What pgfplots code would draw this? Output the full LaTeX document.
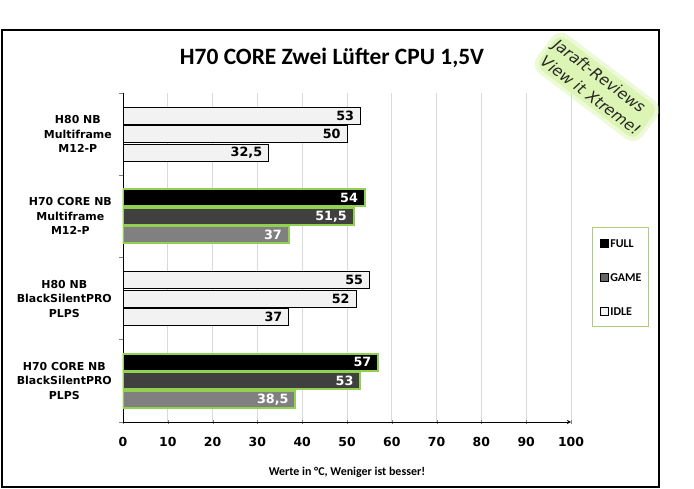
\documentclass[border=0pt]{standalone}
\usepackage{fontspec}
\setmainfont{DejaVu Sans}
\newfontfamily\calibri{Carlito}
\usepackage{pgfplots}
\pgfplotsset{compat=1.18}
\definecolor{barGreen}{RGB}{146,208,80}
\definecolor{legGreen}{RGB}{175,205,120}
\definecolor{glowGreen}{RGB}{200,240,140}
\definecolor{gridGray}{RGB}{217,217,217}
\definecolor{lightFill}{RGB}{242,242,242}
\definecolor{gameGray}{RGB}{64,64,64}
\definecolor{idleGray}{RGB}{128,128,128}
\begin{document}
\begin{tikzpicture}
\useasboundingbox (-123bp,-67bp) rectangle (571bp,422bp);
\draw[line width=1.3bp] (-121bp,-65bp) rectangle (536bp,392bp);
% watermark
\begin{scope}[shift={(474bp,335bp)}, rotate=-37, transform shape]
\fill[glowGreen, opacity=0.35, rounded corners=12bp] (-66bp,-24bp) rectangle (66bp,24bp);
\fill[glowGreen, opacity=0.45, rounded corners=9bp] (-62bp,-20bp) rectangle (62bp,20bp);
\node[text=black!85, align=left, inner sep=0pt, font=\itshape\fontsize{15.5}{21}\selectfont] at (0,0) {Jaraft-Reviews\\View it Xtreme!};
\end{scope}
\begin{axis}[
  at={(0,0)}, anchor=south west,
  scale only axis, width=448bp, height=329bp,
  xmin=0, xmax=100, ymin=-0.5, ymax=3.5,
  xbar, bar width=17bp,
  axis x line=bottom, axis y line=left,
  y axis line style={-},
  axis line style={line width=0.9bp},
  xtick={0,10,...,100},
  xtick align=center,
  major tick length=5bp,
  xmajorgrids, major grid style={draw=gridGray, line width=0.8bp},
  ytick={0,1,2,3},
  yticklabels={{H70 CORE NB\\BlackSilentPRO\\PLPS},{H80 NB\\BlackSilentPRO\\PLPS},{H70 CORE NB\\Multiframe\\M12-P},{H80 NB\\Multiframe\\M12-P}},
  major y tick style={draw=none},
  minor ytick={-0.5,0.5,1.5,2.5,3.5},
  minor tick length=4bp,
  minor y tick style={line width=0.9bp},
  ytick align=outside,
  yticklabel style={align=center, font=\bfseries\fontsize{11}{14.5}\selectfont, inner sep=0pt, xshift=-6bp},
  xticklabel style={font=\bfseries\fontsize{12.5}{14}\selectfont, yshift=-9bp},
  /pgf/number format/assume math mode=true,
  /pgf/number format/use comma,
  xlabel={Werte in °C, Weniger ist besser!},
  xlabel style={font=\calibri\bfseries\fontsize{12}{14}\selectfont, at={(axis description cs:0.5,0)}, anchor=center, yshift=-50bp},
  title={H70 CORE Zwei Lüfter CPU 1,5V},
  title style={font=\calibri\bfseries\fontsize{23.5}{26}\selectfont, at={(axis description cs:0.4665,1.09)}, anchor=center},
  nodes near coords,
  every node near coord/.append style={anchor=east, inner sep=0pt, xshift=-6bp, font=\bfseries\fontsize{12.8}{14}\selectfont},
  legend style={at={(axis description cs:1.0469,0.5927)}, anchor=north west, draw=legGreen, line width=1bp,
    font=\calibri\bfseries\fontsize{12}{12}\selectfont, inner xsep=7bp, inner ysep=11bp, row sep=25bp,
    nodes={inner sep=0.5bp, text height=8bp, text depth=0bp}},
  legend cell align=left,
]
% H70 rows (0 and 2)
\addplot[forget plot, bar shift=18.5bp, fill=black, draw=barGreen, line width=2bp, every node near coord/.append style={text=white}] coordinates {(57,0) (54,2)};
\addplot[forget plot, bar shift=0bp, fill=gameGray, draw=barGreen, line width=2bp, every node near coord/.append style={text=white}] coordinates {(53,0) (51.5,2)};
\addplot[forget plot, bar shift=-18.5bp, fill=idleGray, draw=barGreen, line width=2bp, every node near coord/.append style={text=white}] coordinates {(38.5,0) (37,2)};
% H80 rows (1 and 3)
\addplot[forget plot, bar shift=18.5bp, fill=lightFill, draw=black, line width=0.8bp, every node near coord/.append style={text=black}] coordinates {(55,1) (53,3)};
\addplot[forget plot, bar shift=0bp, fill=lightFill, draw=black, line width=0.8bp, every node near coord/.append style={text=black}] coordinates {(52,1) (50,3)};
\addplot[forget plot, bar shift=-18.5bp, fill=lightFill, draw=black, line width=0.8bp, every node near coord/.append style={text=black}] coordinates {(37,1) (32.5,3)};
\addlegendimage{legend image code/.code={\draw[fill=black,draw=black,line width=0.6bp] (0bp,-4bp) rectangle (8bp,4bp); \path (9.5bp,0bp);}}
\addlegendentry{FULL}
\addlegendimage{legend image code/.code={\draw[fill=gameGray!80,draw=black,line width=0.6bp] (0bp,-4bp) rectangle (8bp,4bp); \path (9.5bp,0bp);}}
\addlegendentry{GAME}
\addlegendimage{legend image code/.code={\draw[fill=lightFill,draw=black,line width=0.6bp] (0bp,-4bp) rectangle (8bp,4bp); \path (9.5bp,0bp);}}
\addlegendentry{IDLE}
\end{axis}
\end{tikzpicture}
\end{document}
